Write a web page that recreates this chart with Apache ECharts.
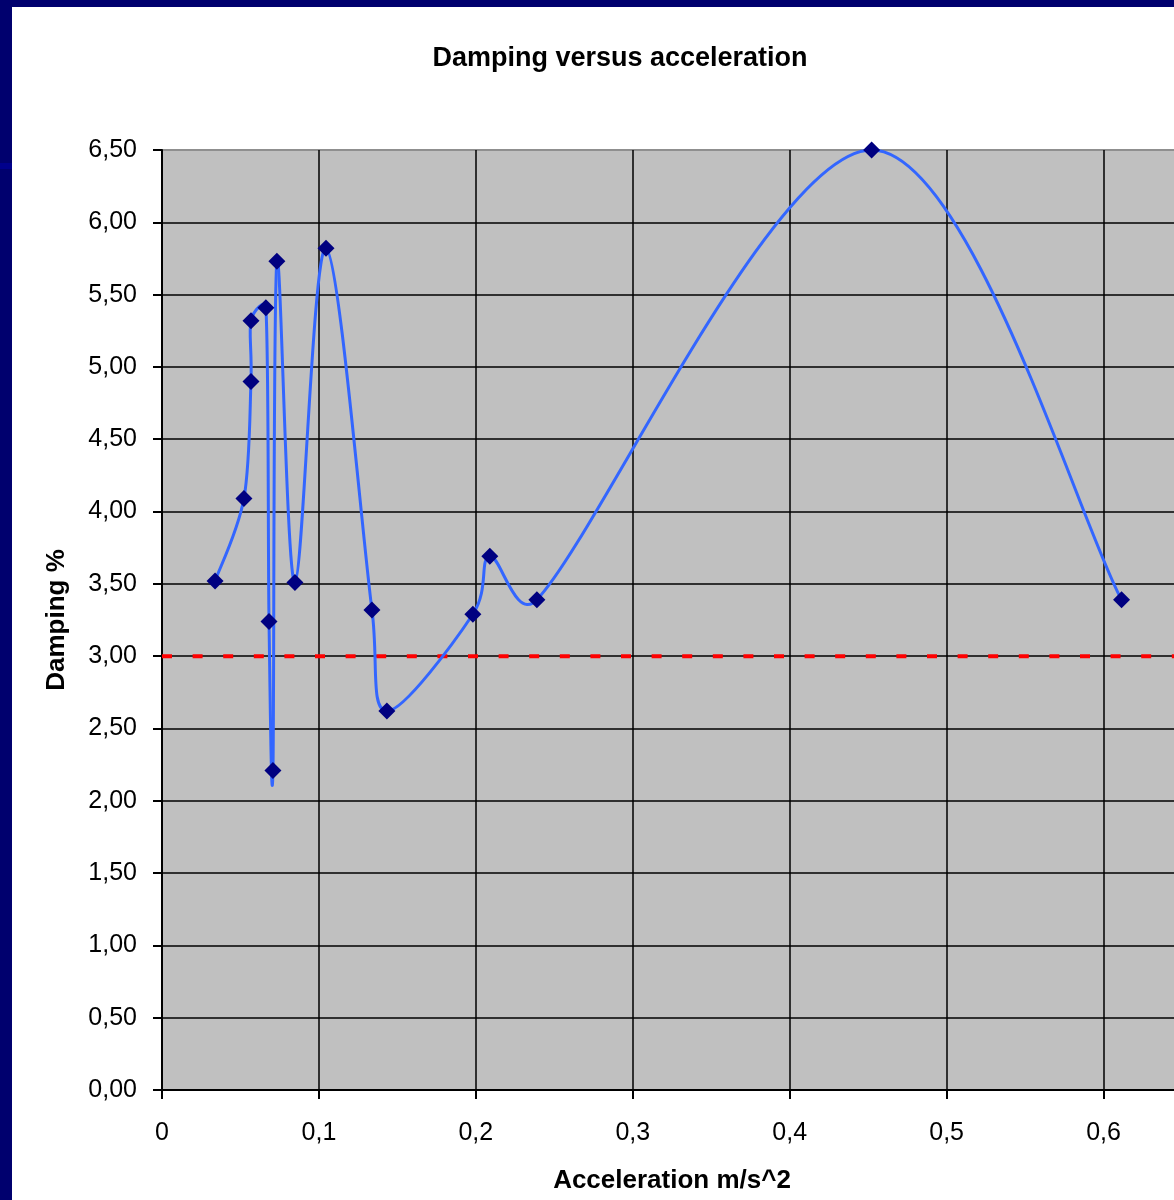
<!DOCTYPE html>
<html>
<head>
<meta charset="utf-8">
<title>Damping versus acceleration</title>
<script src="https://cdn.jsdelivr.net/npm/echarts@6/dist/echarts.min.js"></script>
<style>
  html, body { margin: 0; padding: 0; background: #ffffff; }
  #chart { width: 1174px; height: 1200px; }
</style>
</head>
<body>
<div id="chart"></div>
<script>
// Measured acceleration (m/s^2) and damping (%) in recording order
const acceleration = [0.0338, 0.0522, 0.0567, 0.0567, 0.0662, 0.0682, 0.0707, 0.0732, 0.0847,
                      0.1045, 0.1338, 0.1433, 0.1981, 0.2089, 0.2389, 0.4522, 0.6115];
const damping      = [3.52, 4.09, 4.90, 5.32, 5.41, 3.24, 2.21, 5.73, 3.51,
                      5.82, 3.32, 2.62, 3.29, 3.69, 3.39, 6.50, 3.39];

// Reference level for damping
const limitX = [0, 0.65];
const limitY = [3.00, 3.00];

// Axis tick labels (decimal comma)
const xTickLabels = ['0', '0,1', '0,2', '0,3', '0,4', '0,5', '0,6'];
const yTickLabels = ['0,00', '0,50', '1,00', '1,50', '2,00', '2,50', '3,00',
                     '3,50', '4,00', '4,50', '5,00', '5,50', '6,00', '6,50'];

const measured = acceleration.map((x, i) => [x, damping[i]]);
const limit = limitX.map((x, i) => [x, limitY[i]]);

// Horizontal gridlines: black, except the top one which blends into the gray frame
const yGridColors = yTickLabels.map((_, i) => i === yTickLabels.length - 1 ? '#8f8f8f' : '#000000');

const FONT = '"Liberation Sans", Arial, sans-serif';

// Tangent handle for a smoothed segment: (neighbour difference) / 6,
// shortened so it never reaches past half of the segment it belongs to.
function handle(prev, next, segStart, segEnd) {
  let hx = (next[0] - prev[0]) / 6;
  let hy = (next[1] - prev[1]) / 6;
  const len = Math.hypot(hx, hy);
  const maxLen = 0.5 * Math.hypot(segEnd[0] - segStart[0], segEnd[1] - segStart[1]);
  if (len > maxLen && len > 0) {
    hx *= maxLen / len;
    hy *= maxLen / len;
  }
  return [hx, hy];
}

// Smoothed connector: each item draws the cubic segment from point i to point i+1
function renderSmoothSegment(params, api) {
  const i = params.dataIndexInside;
  const n = params.dataInsideLength !== undefined ? params.dataInsideLength : measured.length;
  if (i >= n - 1) return null;
  const pt = k => {
    const kk = Math.max(0, Math.min(n - 1, k));
    return api.coord([api.value(0, kk), api.value(1, kk)]);
  };
  const p0 = pt(i - 1), p1 = pt(i), p2 = pt(i + 1), p3 = pt(i + 2);
  const h1 = handle(p0, p2, p1, p2);
  const h2 = handle(p1, p3, p1, p2);
  return {
    type: 'bezierCurve',
    shape: {
      x1: p1[0], y1: p1[1],
      x2: p2[0], y2: p2[1],
      cpx1: p1[0] + h1[0], cpy1: p1[1] + h1[1],
      cpx2: p2[0] - h2[0], cpy2: p2[1] - h2[1]
    },
    style: { stroke: '#3366ff', lineWidth: 3, fill: null },
    silent: true
  };
}

const chart = echarts.init(document.getElementById('chart'), null, { renderer: 'canvas' });

chart.setOption({
  backgroundColor: '#ffffff',
  animation: false,
  title: {
    text: 'Damping versus acceleration',
    left: 615,
    top: 40,
    textAlign: 'center',
    textStyle: { fontFamily: FONT, fontSize: 27, fontWeight: 'bold', color: '#000000' }
  },
  graphic: [
    { type: 'rect', left: 0, top: 0, shape: { width: 1174, height: 7 }, style: { fill: '#00006e' }, z: 100 },
    { type: 'rect', left: 0, top: 0, shape: { width: 12, height: 1200 }, style: { fill: '#00006e' }, z: 100 },
    { type: 'rect', left: 0, top: 163, shape: { width: 12, height: 6 }, style: { fill: '#00008c' }, z: 101 }
  ],
  grid: {
    left: 162,
    top: 150,
    width: 1020,
    height: 940,
    outerBoundsMode: 'none',
    containLabel: false,
    show: true,
    backgroundColor: '#c0c0c0',
    borderColor: '#8f8f8f',
    borderWidth: 2
  },
  xAxis: {
    type: 'value',
    min: 0,
    max: 0.65,
    interval: 0.1,
    name: 'Acceleration m/s^2',
    nameLocation: 'middle',
    nameGap: 78,
    nameTextStyle: { fontFamily: FONT, fontSize: 26, fontWeight: 'bold', color: '#000000' },
    axisLine: { show: true, onZero: false, lineStyle: { color: '#000000', width: 2 } },
    axisTick: { show: true, length: 9, lineStyle: { color: '#000000', width: 2 } },
    axisLabel: {
      margin: 31,
      fontFamily: FONT,
      fontSize: 25,
      color: '#000000',
      formatter: v => xTickLabels[Math.round(v / 0.1)] || ''
    },
    splitLine: { show: true, lineStyle: { color: '#000000', width: 1.5 } }
  },
  yAxis: {
    type: 'value',
    min: 0,
    max: 6.5,
    interval: 0.5,
    name: 'Damping %',
    nameLocation: 'middle',
    nameGap: 92,
    nameTextStyle: { fontFamily: FONT, fontSize: 26, fontWeight: 'bold', color: '#000000' },
    axisLine: { show: true, onZero: false, lineStyle: { color: '#000000', width: 2 } },
    axisTick: { show: true, length: 9, lineStyle: { color: '#000000', width: 2 } },
    axisLabel: {
      margin: 25,
      fontFamily: FONT,
      fontSize: 25,
      color: '#000000',
      formatter: v => yTickLabels[Math.round(v / 0.5)] || ''
    },
    splitLine: { show: true, lineStyle: { color: yGridColors, width: 1.5 } }
  },
  series: [
    {
      name: 'Limit',
      type: 'line',
      data: limit,
      symbol: 'none',
      silent: true,
      z: 2,
      lineStyle: { color: '#ff0000', width: 4, type: [10, 20.6] }
    },
    {
      name: 'Damping curve',
      type: 'custom',
      data: measured,
      renderItem: renderSmoothSegment,
      clip: false,
      z: 3
    },
    {
      name: 'Damping',
      type: 'scatter',
      data: measured,
      symbol: 'diamond',
      symbolSize: 17,
      z: 4,
      itemStyle: { color: '#000080', borderWidth: 0, opacity: 1 }
    }
  ]
});
</script>
</body>
</html>
